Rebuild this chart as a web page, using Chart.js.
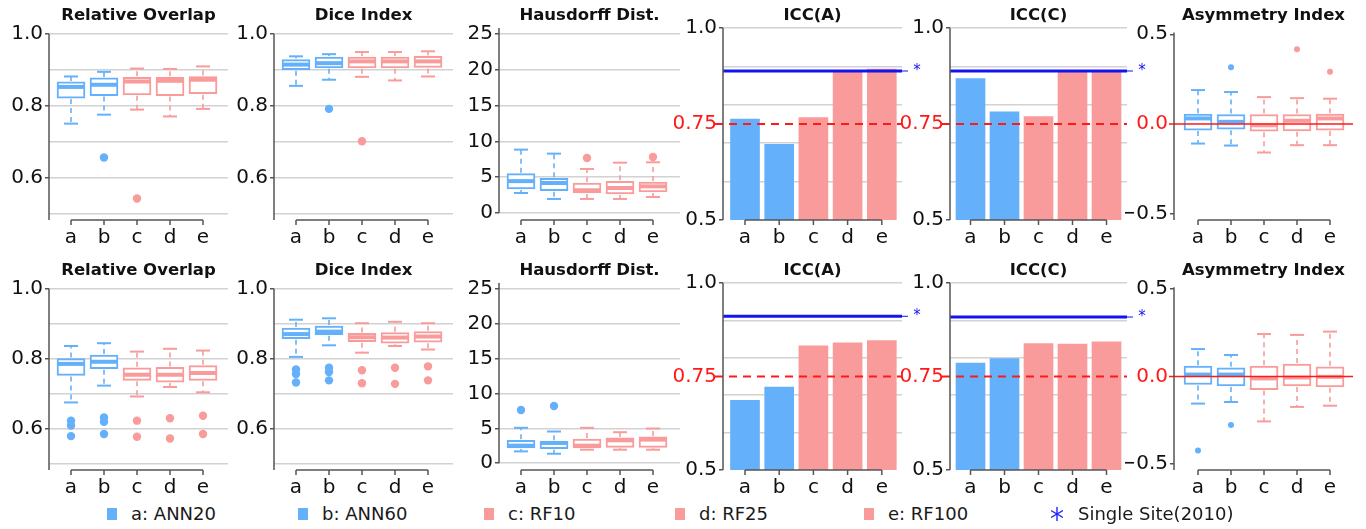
<!DOCTYPE html>
<html>
<head>
<meta charset="utf-8">
<script src="https://cdn.jsdelivr.net/npm/chart.js@4.4.1/dist/chart.umd.min.js"></script>
<style>
  body { margin: 0; background: #fff; width: 1366px; height: 529px; overflow: hidden; position: relative; font-family: "DejaVu Sans", sans-serif; }
  canvas { position: absolute; }
  .leg { position: absolute; top: 503px; height: 22px; font-size: 18px; line-height: 22px; color: #1a1a1a; white-space: nowrap; }
  .sq { position: absolute; top: 5px; width: 10px; height: 12px; }
</style>
</head>
<body>
<script>
(function () {
    "use strict";

    var categories = ['a', 'b', 'c', 'd', 'e'];
    var legendLabels = ['a: ANN20', 'b: ANN60', 'c: RF10', 'd: RF25', 'e: RF100', 'Single Site(2010)'];
    var titles = ['Relative Overlap', 'Dice Index', 'Hausdorff Dist.', 'ICC(A)', 'ICC(C)', 'Asymmetry Index'];

    // box stats: [lower whisker, Q1, median, Q3, upper whisker]
    var overlapBox1 = [[0.751, 0.822, 0.853, 0.867, 0.882], [0.776, 0.829, 0.859, 0.878, 0.895], [0.790, 0.831, 0.868, 0.880, 0.904], [0.771, 0.829, 0.870, 0.880, 0.903], [0.792, 0.834, 0.873, 0.882, 0.910]];
    var overlapOut1 = [[], [0.657], [0.543], [], []];
    var diceBox1 = [[0.856, 0.901, 0.915, 0.929, 0.938], [0.873, 0.906, 0.919, 0.936, 0.944], [0.881, 0.906, 0.924, 0.936, 0.950], [0.871, 0.906, 0.924, 0.936, 0.950], [0.882, 0.907, 0.924, 0.938, 0.952]];
    var diceOut1 = [[], [0.792], [0.702], [], []];
    var hausBox1 = [[2.79, 3.35, 4.45, 5.49, 8.85], [1.96, 3.12, 4.19, 4.84, 8.29], [1.96, 2.79, 3.17, 4.19, 6.15], [1.96, 2.65, 3.49, 4.42, 7.03], [2.23, 2.93, 3.72, 4.33, 7.08]];
    var hausOut1 = [[], [], [7.68], [], [7.82]];
    var iccA1 = [0.763, 0.697, 0.767, 0.890, 0.893];
    var iccC1 = [0.868, 0.782, 0.769, 0.888, 0.888];
    var singleSite1 = [0.888, 0.888];
    var asymBox1 = [[-0.109, -0.034, 0.031, 0.055, 0.189], [-0.120, -0.029, 0.012, 0.053, 0.178], [-0.159, -0.040, -0.007, 0.053, 0.150], [-0.118, -0.038, 0.018, 0.053, 0.144], [-0.118, -0.034, 0.031, 0.055, 0.141]];
    var asymOut1 = [[], [0.316], [], [0.416], [0.291]];

    var overlapBox2 = [[0.676, 0.753, 0.786, 0.801, 0.837], [0.724, 0.772, 0.792, 0.811, 0.845], [0.693, 0.739, 0.755, 0.775, 0.821], [0.720, 0.734, 0.755, 0.776, 0.829], [0.705, 0.739, 0.760, 0.781, 0.824]];
    var overlapOut2 = [[0.624, 0.610, 0.580], [0.633, 0.621, 0.586], [0.624, 0.578], [0.631, 0.573], [0.638, 0.586]];
    var diceBox2 = [[0.806, 0.858, 0.871, 0.888, 0.912], [0.839, 0.869, 0.878, 0.894, 0.916], [0.818, 0.849, 0.862, 0.873, 0.902], [0.837, 0.845, 0.861, 0.875, 0.906], [0.827, 0.848, 0.864, 0.878, 0.902]];
    var diceOut2 = [[0.770, 0.757, 0.733], [0.775, 0.763, 0.739], [0.768, 0.731], [0.775, 0.729], [0.779, 0.739]];
    var hausBox2 = [[1.69, 2.17, 2.51, 3.28, 5.07], [1.35, 2.08, 2.90, 3.14, 4.54], [1.93, 2.17, 2.51, 3.47, 5.07], [1.93, 2.27, 3.28, 3.62, 4.44], [1.93, 2.27, 3.38, 3.76, 4.97]];
    var hausOut2 = [[7.63], [8.20], [], [], []];
    var iccA2 = [0.686, 0.722, 0.832, 0.840, 0.846];
    var iccC2 = [0.786, 0.798, 0.838, 0.837, 0.843];
    var singleSite2 = [0.911, 0.909];
    var asymBox2 = [[-0.155, -0.046, 0.011, 0.059, 0.157], [-0.146, -0.054, 0.011, 0.050, 0.123], [-0.257, -0.075, -0.011, 0.059, 0.243], [-0.174, -0.054, -0.006, 0.071, 0.238], [-0.167, -0.059, -0.002, 0.056, 0.257]];
    var asymOut2 = [[-0.423], [-0.278], [], [], []];

    var iccThreshold = 0.75;

    // tick labels and grid lines
    var overlapTicks = [0.6, 0.8, 1.0];
    var overlapGrid = [0.5, 0.6, 0.7, 0.8, 0.9, 1.0];
    var hausTicks = [0, 5, 10, 15, 20, 25];
    var hausGrid = [0, 5, 10, 15, 20, 25];
    var iccTicks = [0.5, 0.75, 1.0];
    var iccGrid = [0.6, 0.7, 0.8, 0.9, 1.0];
    var asymTicks = [-0.5, 0.0, 0.5];
    var asymGrid = [];

    var ANN = '#64b0fa', RF = '#f99b9b';
    var catColors = [ANN, ANN, RF, RF, RF];
    var FONT = '"DejaVu Sans", sans-serif';

    // panel placement
    var cols = [
        {axis: 49, first: 71, step: 33, right: 228},
        {axis: 274, first: 296, step: 33, right: 453},
        {axis: 499, first: 521, step: 33, right: 680},
        {axis: 723, first: 745, step: 34.2, right: 902},
        {axis: 950, first: 970.5, step: 34, right: 1127},
        {axis: 1174, first: 1198, step: 33, right: 1353}
    ];
    var rows = [{top: 0, areaTop: 28}, {top: 250, areaTop: 283}];

    var same = function (a, b) { return Math.abs(a - b) < 1e-9; };
    var has = function (list, v) { return list.some(function (x) { return same(x, v); }); };

    var kinds = {
        overlap: {min: 0.4833, max: 1.0167, ticks: overlapTicks, grid: overlapGrid, axisTo: 1.0, axisFrom: null,
            fmt: function (v) { return v.toFixed(1); }},
        haus: {min: -0.98, max: 25.84, ticks: hausTicks, grid: hausGrid, axisTo: null, axisFrom: 0,
            fmt: function (v) { return String(v); }},
        icc: {min: 0.5, max: 1.0, ticks: iccTicks, grid: iccGrid, axisTo: null, axisFrom: null, red: iccThreshold,
            fmt: function (v) { return same(v, 0.75) ? '0.75' : v.toFixed(1); }},
        asym: {min: -0.535, max: 0.535, ticks: asymTicks, grid: asymGrid, axisTo: 0.51, axisFrom: null, red: 0,
            fmt: function (v) { return v.toFixed(1).replace('-', '\u2212'); }}
    };

    function line(ctx, x1, y1, x2, y2) {
        ctx.beginPath();
        ctx.moveTo(x1, y1);
        ctx.lineTo(x2, y2);
        ctx.stroke();
    }

    function deco(p, k, n) {
        return {
            id: 'deco' + n,
            afterDatasetsDraw: function (chart) {
                var ctx = chart.ctx, a = chart.chartArea, xs = chart.scales.x, ys = chart.scales.y;
                var y = function (v) { return ys.getPixelForValue(v); };
                ctx.save();

                // whiskers, caps and medians
                if (p.boxes) {
                    p.boxes.forEach(function (b, i) {
                        var cx = xs.getPixelForValue(i);
                        ctx.strokeStyle = catColors[i];
                        ctx.lineWidth = 1.6;
                        ctx.setLineDash([5, 4]);
                        line(ctx, cx, y(b[3]) - 1, cx, y(b[4]));
                        line(ctx, cx, y(b[1]) + 1, cx, y(b[0]));
                        ctx.setLineDash([]);
                        ctx.lineWidth = 2;
                        line(ctx, cx - 7, y(b[4]), cx + 7, y(b[4]));
                        line(ctx, cx - 7, y(b[0]), cx + 7, y(b[0]));
                        ctx.lineWidth = 4;
                        line(ctx, cx - 13, y(b[2]), cx + 13, y(b[2]));
                    });
                }

                // reference lines
                if (p.type === 'icc') {
                    ctx.strokeStyle = '#ff1a1a';
                    ctx.lineWidth = 2;
                    ctx.setLineDash([8, 6]);
                    line(ctx, a.left - 8, y(k.red), a.right, y(k.red));
                    ctx.setLineDash([]);
                    var sy = y(p.single);
                    ctx.strokeStyle = '#1414f0';
                    ctx.lineWidth = 3;
                    line(ctx, a.left, sy, a.right, sy);
                    ctx.lineWidth = 1;
                    line(ctx, a.right, sy, a.right + 6, sy);
                    ctx.fillStyle = '#1414f0';
                    ctx.font = '15px ' + FONT;
                    ctx.textAlign = 'center';
                    ctx.textBaseline = 'middle';
                    ctx.fillText('*', a.right + 15, sy);
                }
                if (p.type === 'asym') {
                    ctx.strokeStyle = '#ff1a1a';
                    ctx.lineWidth = 1.6;
                    line(ctx, a.left - 5, y(0), a.right, y(0));
                }

                // axes
                ctx.strokeStyle = '#555';
                ctx.lineWidth = 1.5;
                var top = k.axisTo === null ? a.top : y(k.axisTo);
                var bottom = k.axisFrom === null ? a.bottom : y(k.axisFrom);
                line(ctx, a.left, top, a.left, bottom);
                var x0 = xs.getPixelForValue(0), x4 = xs.getPixelForValue(categories.length - 1);
                line(ctx, x0, a.bottom, x4, a.bottom);
                categories.forEach(function (c, i) {
                    var tx = xs.getPixelForValue(i);
                    line(ctx, tx, a.bottom, tx, a.bottom + 5);
                });

                // title
                ctx.fillStyle = '#111';
                ctx.font = 'bold 16.5px ' + FONT;
                ctx.textAlign = 'center';
                ctx.textBaseline = 'middle';
                ctx.fillText(p.title, (a.left + a.right) / 2, a.top - 12);
                ctx.restore();
            }
        };
    }

    var count = 0;
    function buildPanel(row, col, p) {
        var geo = cols[col], r = rows[row], k = kinds[p.kind];
        var axisW = 49, padR = Math.min(30, 1366 - geo.right);
        var canvas = document.createElement('canvas');
        canvas.width = geo.right - geo.axis + axisW + padR;
        canvas.height = 250;
        canvas.style.left = (geo.axis - axisW) + 'px';
        canvas.style.top = r.top + 'px';
        document.body.appendChild(canvas);
        p.title = titles[col];
        p.type = p.kind === 'icc' ? 'icc' : (p.kind === 'asym' ? 'asym' : 'box');

        var datasets = [];
        if (p.values) {
            datasets.push({
                type: 'bar',
                data: p.values.map(function (v, i) { return {x: i, y: v}; }),
                backgroundColor: catColors,
                borderWidth: 0,
                barThickness: 29
            });
        } else {
            datasets.push({
                type: 'bar',
                data: p.boxes.map(function (b, i) { return {x: i, y: [b[1], b[3]]}; }),
                backgroundColor: '#ffffff',
                borderColor: catColors,
                borderWidth: 2,
                borderSkipped: false,
                barThickness: 28,
                order: 2
            });
            var pts = [], ptColors = [];
            p.outliers.forEach(function (list, i) {
                list.forEach(function (v) {
                    pts.push({x: i, y: v});
                    ptColors.push(catColors[i]);
                });
            });
            datasets.push({
                type: 'line',
                data: pts,
                showLine: false,
                pointRadius: p.kind === 'asym' ? 3 : 4.2,
                pointHoverRadius: 0,
                pointBorderWidth: 0,
                pointBackgroundColor: ptColors,
                order: 1
            });
        }

        count++;
        new Chart(canvas, {
            type: 'bar',
            data: {datasets: datasets},
            options: {
                responsive: false,
                animation: false,
                events: [],
                layout: {padding: {top: r.areaTop - r.top, right: padR, left: 0, bottom: 0}},
                plugins: {legend: {display: false}, tooltip: {enabled: false}},
                scales: {
                    x: {
                        type: 'linear',
                        offset: false,
                        min: -(geo.first - geo.axis) / geo.step,
                        max: (geo.right - geo.first) / geo.step,
                        afterBuildTicks: function (s) { s.ticks = categories.map(function (c, i) { return {value: i}; }); },
                        afterFit: function (s) { s.height = 30; },
                        grid: {display: false, drawTicks: false},
                        border: {display: false},
                        ticks: {
                            autoSkip: false, maxRotation: 0, padding: 6, color: '#111',
                            font: {family: FONT, size: 20},
                            callback: function (v) { return categories[v]; }
                        }
                    },
                    y: {
                        min: k.min,
                        max: k.max,
                        afterBuildTicks: function (s) {
                            var vals = k.grid.slice();
                            k.ticks.forEach(function (v) { if (!has(vals, v)) vals.push(v); });
                            vals.sort(function (m, n) { return m - n; });
                            s.ticks = vals.map(function (v) { return {value: v}; });
                        },
                        afterFit: function (s) { s.width = axisW; },
                        border: {display: false},
                        grid: {
                            lineWidth: 1.5,
                            tickLength: 4,
                            tickWidth: 1.5,
                            color: function (c) { return has(k.grid, c.tick.value) ? '#d2d2d2' : 'rgba(0,0,0,0)'; },
                            tickColor: function (c) {
                                var v = c.tick.value;
                                if (k.red !== undefined && same(v, k.red)) return 'rgba(0,0,0,0)';
                                return has(k.ticks, v) ? '#555' : 'rgba(0,0,0,0)';
                            }
                        },
                        ticks: {
                            autoSkip: false, padding: 2,
                            font: {family: FONT, size: 20},
                            color: function (c) {
                                return (k.red !== undefined && same(c.tick.value, k.red)) ? '#ff1a1a' : '#111';
                            },
                            callback: function (v) { return has(k.ticks, v) ? k.fmt(v) : ''; }
                        }
                    }
                }
            },
            plugins: [deco(p, k, count)]
        });
    }

    buildPanel(0, 0, {kind: 'overlap', boxes: overlapBox1, outliers: overlapOut1});
    buildPanel(0, 1, {kind: 'overlap', boxes: diceBox1, outliers: diceOut1});
    buildPanel(0, 2, {kind: 'haus', boxes: hausBox1, outliers: hausOut1});
    buildPanel(0, 3, {kind: 'icc', values: iccA1, single: singleSite1[0]});
    buildPanel(0, 4, {kind: 'icc', values: iccC1, single: singleSite1[1]});
    buildPanel(0, 5, {kind: 'asym', boxes: asymBox1, outliers: asymOut1});
    buildPanel(1, 0, {kind: 'overlap', boxes: overlapBox2, outliers: overlapOut2});
    buildPanel(1, 1, {kind: 'overlap', boxes: diceBox2, outliers: diceOut2});
    buildPanel(1, 2, {kind: 'haus', boxes: hausBox2, outliers: hausOut2});
    buildPanel(1, 3, {kind: 'icc', values: iccA2, single: singleSite2[0]});
    buildPanel(1, 4, {kind: 'icc', values: iccC2, single: singleSite2[1]});
    buildPanel(1, 5, {kind: 'asym', boxes: asymBox2, outliers: asymOut2});

    // legend
    var legendX = [107, 298, 484, 675, 864, 1051];
    var legendColors = [ANN, ANN, RF, RF, RF, null];
    legendLabels.forEach(function (label, i) {
        var item = document.createElement('div');
        item.className = 'leg';
        item.style.left = legendX[i] + 'px';
        var mark;
        if (legendColors[i]) {
            mark = '<span class="sq" style="left:0;background:' + legendColors[i] + '"></span>';
        } else {
            mark = '<svg style="position:absolute;left:0;top:4px" width="12" height="14" viewBox="0 0 12 14">' +
                '<g stroke="#2020ff" stroke-width="1.4"><line x1="6" y1="0" x2="6" y2="14"/>' +
                '<line x1="0" y1="3.5" x2="12" y2="10.5"/><line x1="0" y1="10.5" x2="12" y2="3.5"/></g></svg>';
        }
        item.innerHTML = mark + '<span style="position:absolute;left:' + (i === 5 ? 27 : 24) + 'px">' + label + '</span>';
        document.body.appendChild(item);
    });
})();
</script>
</body>
</html>
